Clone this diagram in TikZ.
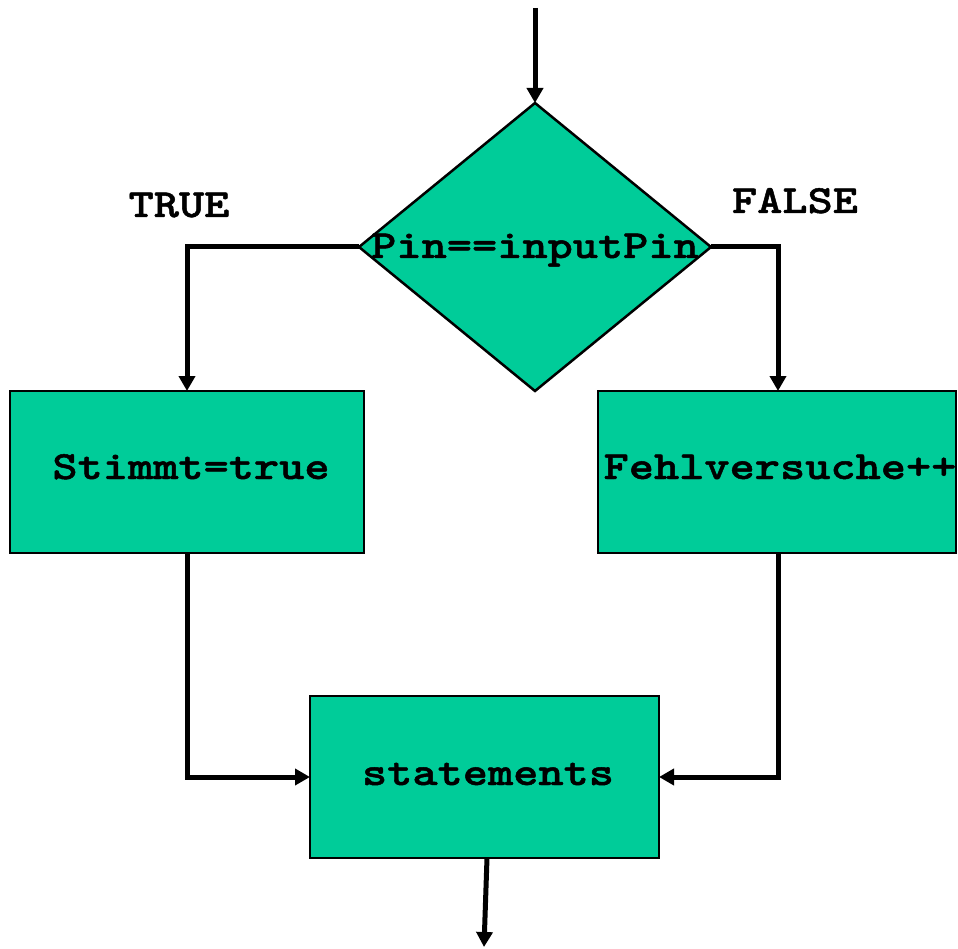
\documentclass[tikz,border=0pt]{standalone}
\usepackage{fontspec}
\newfontfamily\codefont{lmmonolt10-bold.otf}[FakeStretch=1.2,FakeBold=1.2]
\usetikzlibrary{arrows.meta}
\definecolor{boxgreen}{RGB}{0,204,153}
\begin{document}
\begin{tikzpicture}[x=1pt,y=-1pt,
  shapefill/.style={fill=boxgreen,draw=black,line width=2.5pt},
  flow/.style={line width=5pt,-{Triangle[width=16pt,length=15pt]}},
  lbl/.style={font=\codefont\fontsize{40}{40}\selectfont,inner sep=0pt,anchor=base}]
\useasboundingbox (0,0) rectangle (958,949);
% decision diamond
\draw[shapefill] (535,103) -- (711,247) -- (535,391) -- (359,247) -- cycle;
\coordinate (dtop) at (535,103);
\coordinate (dleft) at (359,247);
\coordinate (dright) at (711,247);
% process boxes
\draw[shapefill] (10,391) rectangle (364,553);
\draw[shapefill] (598,391) rectangle (956,553);
\draw[shapefill] (310,696) rectangle (659,858);
\coordinate (ltop) at (187,391);
\coordinate (lbot) at (187,553);
\coordinate (rtop) at (778,391);
\coordinate (rbot) at (778,553);
\coordinate (sleft) at (310,777);
\coordinate (sright) at (659,777);
\coordinate (sbot) at (487,858);
\coordinate (entry) at (535,8);
\coordinate (exit) at (484,947);
% texts
\node[lbl] (cond) at (535,258) {Pin==inputPin};
\node[lbl] (tlabel) at (179,217) {TRUE};
\node[lbl] (flabel) at (795,213) {FALSE};
\node[lbl] (yes) at (191,479) {Stimmt=true};
\node[lbl] (no) at (780,479) {Fehlversuche++};
\node[lbl] (stm) at (488,785) {statements};
% connectors
\draw[flow] (entry) -- (dtop);
\draw[flow] (dleft) -| (ltop);
\draw[flow] (dright) -| (rtop);
\draw[flow] (lbot) |- (sleft);
\draw[flow] (rbot) |- (sright);
\draw[flow] (sbot) -- (exit);
\end{tikzpicture}
\end{document}
